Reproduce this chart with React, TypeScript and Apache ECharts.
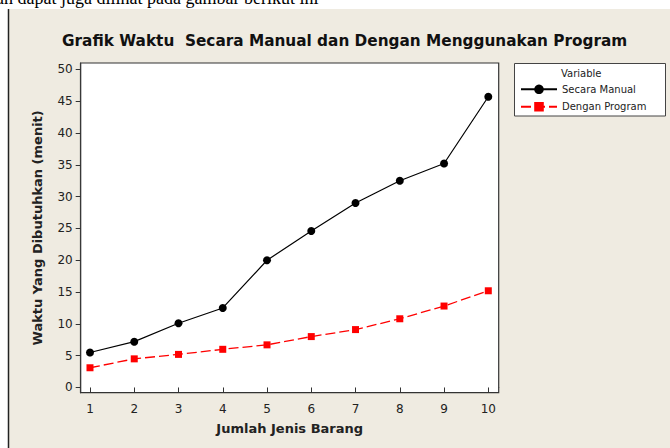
import React, { useEffect, useRef } from "react";
import * as echarts from "echarts";

const xValues = [1, 2, 3, 4, 5, 6, 7, 8, 9, 10];
const manualValues = [5.5, 7.2, 10.1, 12.5, 20.0, 24.6, 29.0, 32.5, 35.2, 45.7];
const programValues = [3.1, 4.5, 5.2, 6.0, 6.7, 8.0, 9.1, 10.8, 12.8, 15.2];
const xTicks = [1, 2, 3, 4, 5, 6, 7, 8, 9, 10];
const yTicks = [0, 5, 10, 15, 20, 25, 30, 35, 40, 45, 50];
const seriesNames = ["Secara Manual", "Dengan Program"];
const titleText = "Grafik Waktu  Secara Manual dan Dengan Menggunakan Program";
const xName = "Jumlah Jenis Barang";
const yName = "Waktu Yang Dibutuhkan (menit)";
const legendTitle = "Variable";
const topText = "ah dapat juga dilihat pada gambar berikut ini";

const W = 670;
const H = 448;
const GRID = { left: 80.7, top: 63, right: 171.3, bottom: 55.3 };
const FONT = '"DejaVu Sans", Verdana, sans-serif';

export default function App() {
  const ref = useRef<HTMLDivElement>(null);
  useEffect(() => {
    if (!ref.current) return;
    const chart = echarts.init(ref.current, null, { renderer: "svg" });
    const gw = W - GRID.left - GRID.right;
    const gh = H - GRID.top - GRID.bottom;
    chart.setOption({
      animation: false,
      backgroundColor: "#ffffff",
      title: {
        text: titleText,
        left: 62,
        top: 32.7,
        padding: 0,
        textStyle: {
          fontFamily: FONT,
          fontSize: 15.3,
          fontWeight: "bold",
          color: "#111",
          lineHeight: 16,
        },
      },
      graphic: [
        {
          type: "text",
          z2: 0,
          silent: true,
          x: -4,
          y: 7,
          style: {
            text: topText,
            font: '18px "Liberation Serif", "Times New Roman", serif',
            fill: "#000",
            textVerticalAlign: "bottom",
          },
        },
        {
          type: "rect",
          z2: 1,
          silent: true,
          shape: { x: 8, y: 9, width: W, height: H },
          style: { fill: "#EFEBE1" },
        },
        {
          type: "line",
          z2: 2,
          silent: true,
          shape: { x1: 8.5, y1: 9, x2: 8.5, y2: H },
          style: { stroke: "#222", lineWidth: 1.5 },
        },
        {
          type: "rect",
          z2: 2,
          silent: true,
          shape: { x: GRID.left, y: GRID.top, width: gw, height: gh },
          style: { fill: "#ffffff", stroke: "#333", lineWidth: 1.2 },
        },
        {
          type: "rect",
          z2: 2,
          silent: true,
          shape: { x: 514.5, y: 63.5, width: 151, height: 52.5 },
          style: { fill: "#ffffff", stroke: "#444", lineWidth: 1 },
        },
        {
          type: "text",
          z2: 3,
          silent: true,
          x: 561,
          y: 73.3,
          style: {
            text: legendTitle,
            font: "10px " + FONT,
            fill: "#222",
            textVerticalAlign: "middle",
          },
        },
      ],
      legend: {
        left: 520,
        top: 83.3,
        orient: "vertical",
        padding: 0,
        itemWidth: 36,
        itemHeight: 12,
        itemGap: 5.4,
        data: seriesNames,
        textStyle: { fontFamily: FONT, fontSize: 10, color: "#222", lineHeight: 12 },
      },
      grid: { ...GRID, containLabel: false, show: false },
      xAxis: {
        type: "value",
        min: 0.79,
        max: 10.235,
        name: xName,
        nameLocation: "middle",
        nameGap: 29,
        nameTextStyle: { fontFamily: FONT, fontSize: 13, fontWeight: "bold", color: "#222" },
        axisLine: { show: true, lineStyle: { color: "#333", width: 1.2 } },
        axisTick: { show: true, customValues: xTicks, length: 5, lineStyle: { color: "#333" } },
        axisLabel: { customValues: xTicks, margin: 10, fontFamily: FONT, fontSize: 12, color: "#222" },
        splitLine: { show: false },
      },
      yAxis: {
        type: "value",
        min: -0.82,
        max: 51,
        name: yName,
        nameLocation: "middle",
        nameGap: 37,
        nameTextStyle: { fontFamily: FONT, fontSize: 13, fontWeight: "bold", color: "#222" },
        axisLine: { show: true, lineStyle: { color: "#333", width: 1.2 } },
        axisTick: { show: true, customValues: yTicks, length: 5, lineStyle: { color: "#333" } },
        axisLabel: { customValues: yTicks, margin: 8, fontFamily: FONT, fontSize: 12, color: "#222" },
        splitLine: { show: false },
      },
      series: [
        {
          name: seriesNames[0],
          type: "line",
          data: xValues.map((x, i) => [x, manualValues[i]]),
          symbol: "circle",
          symbolSize: 8,
          itemStyle: { color: "#000" },
          lineStyle: { color: "#000", width: 1.2 },
        },
        {
          name: seriesNames[1],
          type: "line",
          data: xValues.map((x, i) => [x, programValues[i]]),
          symbol: "rect",
          symbolSize: 7,
          itemStyle: { color: "#ff0000" },
          lineStyle: { color: "#ff0000", width: 1.3, type: [10, 4] },
        },
      ],
    });
    return () => chart.dispose();
  }, []);
  return (
    <div
      ref={ref}
      style={{ position: "fixed", left: 0, top: 0, width: W, height: H }}
    />
  );
}
